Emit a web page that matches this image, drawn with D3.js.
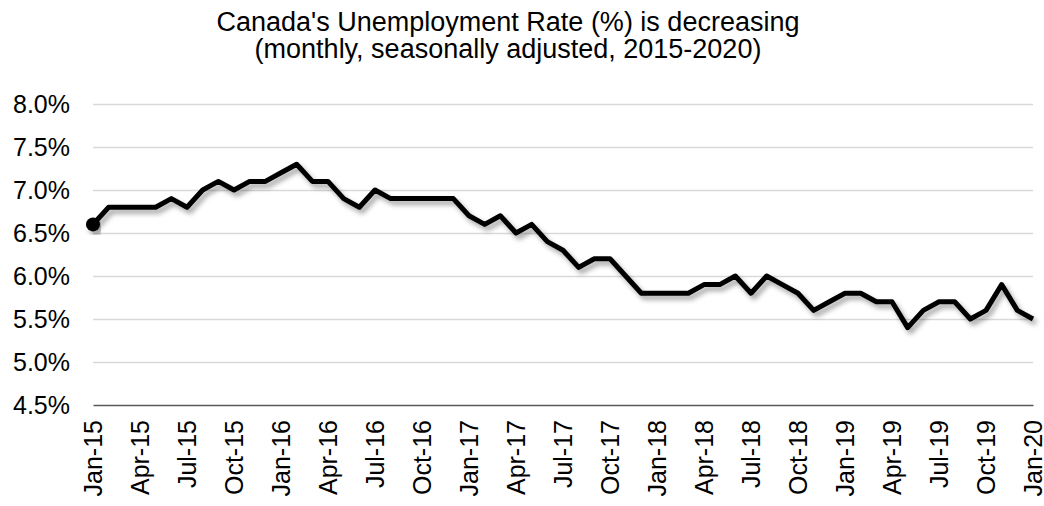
<!DOCTYPE html>
<html>
<head>
<meta charset="utf-8">
<script src="https://cdn.jsdelivr.net/npm/d3@7"></script>
<style>
  html, body { margin: 0; padding: 0; background: #fff; }
  svg { display: block; font-family: "Liberation Sans", Arial, sans-serif; }
</style>
</head>
<body>
<svg id="chart" width="1044" height="506"></svg>
<script>
// Monthly unemployment rate (%), seasonally adjusted, Jan 2015 – Jan 2020
const startYear = 2015;
const rates2015 = [6.6, 6.8, 6.8, 6.8, 6.8, 6.9, 6.8, 7.0, 7.1, 7.0, 7.1, 7.1];
const rates2016 = [7.2, 7.3, 7.1, 7.1, 6.9, 6.8, 7.0, 6.9, 6.9, 6.9, 6.9, 6.9];
const rates2017 = [6.7, 6.6, 6.7, 6.5, 6.6, 6.4, 6.3, 6.1, 6.2, 6.2, 6.0, 5.8];
const rates2018 = [5.8, 5.8, 5.8, 5.9, 5.9, 6.0, 5.8, 6.0, 5.9, 5.8, 5.6, 5.7];
const rates2019 = [5.8, 5.8, 5.7, 5.7, 5.4, 5.6, 5.7, 5.7, 5.5, 5.6, 5.9, 5.6];
const rates2020 = [5.5];

const monthNames = ["Jan", "Feb", "Mar", "Apr", "May", "Jun", "Jul", "Aug", "Sep", "Oct", "Nov", "Dec"];
const yTicks = [4.5, 5.0, 5.5, 6.0, 6.5, 7.0, 7.5, 8.0];
const tickStep = 3; // label every quarter

const titleLines = [
  "Canada's Unemployment Rate (%) is decreasing",
  "(monthly, seasonally adjusted, 2015-2020)"
];

const rates = [].concat(rates2015, rates2016, rates2017, rates2018, rates2019, rates2020);
const data = rates.map((v, i) => {
  const year = startYear + Math.floor(i / 12);
  const m = i % 12;
  return { i, label: monthNames[m] + "-" + String(year).slice(2), value: v };
});

const svg = d3.select("#chart");
const margin = { left: 93, right: 11, top: 104, bottom: 101 };
const W = 1044, H = 506;
const font = "Liberation Sans, Arial, sans-serif";

const x = d3.scaleLinear()
  .domain([0, data.length - 1])
  .range([margin.left, W - margin.right]);

const y = d3.scaleLinear()
  .domain([4.5, 8.0])
  .range([H - margin.bottom, margin.top]);

// Soft drop shadow under the line
const defs = svg.append("defs");
const f = defs.append("filter").attr("id", "shadow")
  .attr("x", "-5%").attr("y", "-20%").attr("width", "110%").attr("height", "140%");
f.append("feDropShadow")
  .attr("dx", 3).attr("dy", 4)
  .attr("stdDeviation", 2.5)
  .attr("flood-color", "#000")
  .attr("flood-opacity", 0.35);

// Title
svg.append("g").selectAll("text")
  .data(titleLines)
  .join("text")
  .attr("x", 508)
  .attr("y", (d, i) => 31 + i * 27)
  .attr("text-anchor", "middle")
  .attr("font-size", 27)
  .attr("font-family", font)
  .attr("fill", "#000")
  .text(d => d);

// Horizontal gridlines + y labels
const yAxis = d3.axisLeft(y)
  .tickValues(yTicks)
  .tickSize(-(W - margin.left - margin.right))
  .tickPadding(23)
  .tickFormat(d => d.toFixed(1) + "%");

const gy = svg.append("g")
  .attr("transform", `translate(${margin.left},0)`)
  .call(yAxis);
gy.select(".domain").remove();
gy.selectAll(".tick line")
  .attr("stroke", "#d9d9d9")
  .attr("stroke-width", 1.5);
gy.selectAll(".tick text")
  .attr("font-size", 25)
  .attr("fill", "#000")
  .attr("font-family", font);
gy.selectAll(".tick").filter(d => d === 4.5).select("line").remove();

// X axis with rotated quarterly labels
const xTickVals = data.filter(d => d.i % tickStep === 0).map(d => d.i);
const xAxis = d3.axisBottom(x)
  .tickValues(xTickVals)
  .tickSize(0)
  .tickPadding(0)
  .tickFormat(i => data[i].label);

const gx = svg.append("g")
  .attr("transform", `translate(0,${H - margin.bottom})`)
  .call(xAxis);
gx.select(".domain")
  .attr("stroke", "#595959")
  .attr("stroke-width", 1.5);
gx.selectAll(".tick text")
  .attr("font-size", 25)
  .attr("fill", "#000")
  .attr("font-family", font)
  .attr("text-anchor", "end")
  .attr("dy", "0.35em")
  .attr("transform", "translate(0,15) rotate(-90)");

// Line series
const line = d3.line()
  .x(d => x(d.i))
  .y(d => y(d.value));

svg.append("path")
  .datum(data)
  .attr("d", line)
  .attr("fill", "none")
  .attr("stroke", "#000")
  .attr("stroke-width", 5)
  .attr("stroke-linejoin", "round")
  .attr("filter", "url(#shadow)");

// Starting point marker
svg.append("circle")
  .datum(data[0])
  .attr("cx", d => x(d.i))
  .attr("cy", d => y(d.value))
  .attr("r", 7)
  .attr("fill", "#000")
  .attr("filter", "url(#shadow)");
</script>
</body>
</html>
